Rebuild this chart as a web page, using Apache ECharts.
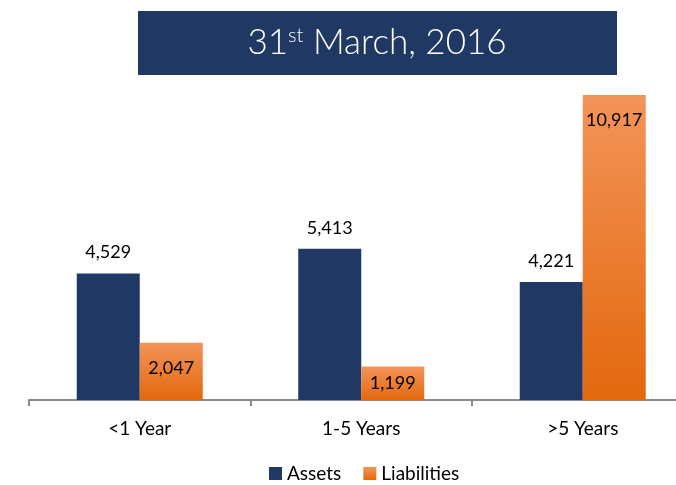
<!DOCTYPE html>
<html>
<head>
<meta charset="utf-8">
<script src="https://cdn.jsdelivr.net/npm/echarts@6/dist/echarts.min.js"></script>
<style>html,body{margin:0;padding:0;background:#fff;}#c{width:676px;height:485px;}</style>
</head>
<body>
<div id="c"></div>
<script>
const categories = ['<1 Year', '1-5 Years', '>5 Years'];
const assets = [4529, 5413, 4221];
const liabilities = [2047, 1199, 10917];
const seriesNames = ['Assets', 'Liabilities'];

const FONT = 'Lato';
const chart = echarts.init(document.getElementById('c'));
const liabData = liabilities.map((v, i) => ({
  value: v,
  label: { position: v < 1500 ? 'inside' : 'insideTop', distance: 16 }
}));
chart.setOption({
  animation: false,
  textStyle: { fontFamily: FONT },
  graphic: [
    { type: 'rect', shape: { x: 138, y: 11, width: 479, height: 64 }, style: { fill: '#203864' } },
    { type: 'text', x: 377, y: 43, style: {
        text: '{a|31}{b|st}{a| March, 2016}',
        align: 'center', verticalAlign: 'middle',
        rich: {
          a: { fontFamily: FONT, fontSize: 35, fontWeight: 300, fill: '#fff', color: '#fff' },
          b: { fontFamily: FONT, fontSize: 20, fontWeight: 300, fill: '#fff', color: '#fff', verticalAlign: 'top', padding: [0, 0, 13, 0] }
        }
    } }
  ],
  legend: {
    data: seriesNames,
    bottom: -3,
    left: 264,
    itemWidth: 13, itemHeight: 13, itemGap: 22,
    icon: 'rect',
    textStyle: { fontFamily: FONT, fontSize: 19, color: '#000' }
  },
  grid: { left: 29, width: 664.5, top: 64.7, bottom: 85, containLabel: false, outerBoundsMode: 'none' },
  xAxis: {
    type: 'category', data: categories,
    axisLine: { lineStyle: { color: '#898989', width: 2 } },
    axisTick: { show: true, length: 6, lineStyle: { color: '#898989', width: 2 } },
    axisLabel: { fontFamily: FONT, fontSize: 19, color: '#000', margin: 19 }
  },
  yAxis: { type: 'value', min: 0, max: 12000, show: false, splitLine: { show: false } },
  series: [
    { name: seriesNames[0], type: 'bar', data: assets, barWidth: 63, barGap: '0%',
      itemStyle: { color: '#203864' },
      label: { show: true, position: 'top', distance: 12, fontFamily: FONT, fontSize: 18, color: '#000',
        formatter: p => p.value.toLocaleString('en-US') } },
    { name: seriesNames[1], type: 'bar', data: liabData, barWidth: 63,
      itemStyle: { color: new echarts.graphic.LinearGradient(0, 0, 0, 1, [
        { offset: 0, color: '#F39459' }, { offset: 1, color: '#E3680E' }]) },
      label: { show: true, fontFamily: FONT, fontSize: 18, color: '#000',
        formatter: p => p.value.toLocaleString('en-US') } }
  ]
});
</script>
</body>
</html>
